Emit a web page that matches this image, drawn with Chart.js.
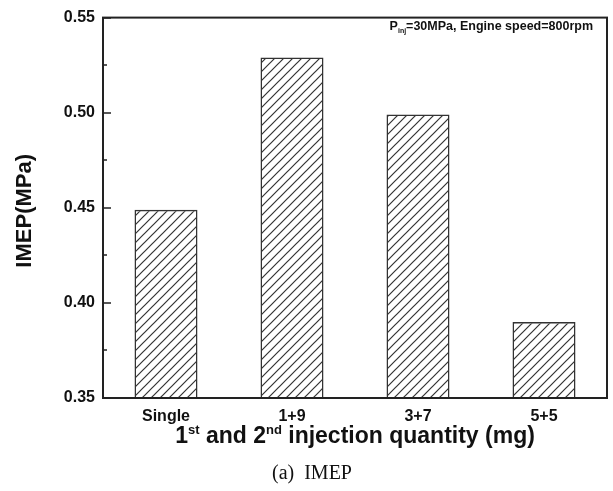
<!DOCTYPE html>
<html>
<head>
<meta charset="utf-8">
<script src="https://cdn.jsdelivr.net/npm/chart.js@4"></script>
<style>
  body { margin: 0; background: #fff; }
  canvas { display: block; }
</style>
</head>
<body>
<canvas id="imepChart" width="613" height="491"></canvas>
<script>
const categories = ["Single", "1+9", "3+7", "5+5"];
const imepValues = [0.449, 0.529, 0.499, 0.390];
const yTicks = [0.35, 0.40, 0.45, 0.50, 0.55];

const SANS = "'Liberation Sans', Arial, sans-serif";
const SERIF = "'Liberation Serif', 'Times New Roman', serif";

// diagonal hatch fill for the bars
function makeHatch() {
    const s = 9;
    const c = document.createElement("canvas");
    c.width = s; c.height = s;
    const g = c.getContext("2d");
    g.strokeStyle = "#333";
    g.lineWidth = 1.2;
    g.beginPath();
    g.moveTo(-1, s + 1); g.lineTo(s + 1, -1);
    g.moveTo(-2, 2); g.lineTo(2, -2);
    g.moveTo(s - 2, s + 2); g.lineTo(s + 2, s - 2);
    g.stroke();
    return g.createPattern(c, "repeat");
}

function drawRuns(ctx, runs, cx, baseline) {
    let total = 0;
    runs.forEach(r => { ctx.font = r.font; r.w = ctx.measureText(r.text).width; total += r.w; });
    let x = cx - total / 2;
    ctx.textAlign = "left";
    ctx.textBaseline = "alphabetic";
    runs.forEach(r => {
        ctx.font = r.font;
        ctx.fillText(r.text, x, baseline + (r.dy || 0));
        x += r.w;
    });
}

const decorations = {
    id: "decorations",
    afterDraw(chart) {
        const { ctx, chartArea: a, scales: { y } } = chart;
        ctx.save();
        ctx.strokeStyle = "#222";
        ctx.lineWidth = 2;
        ctx.strokeRect(a.left, a.top, a.right - a.left, a.bottom - a.top);

        // inward ticks, majors plus half-step minors
        ctx.lineWidth = 1.6;
        ctx.beginPath();
        yTicks.forEach((v, i) => {
            const py = Math.round(y.getPixelForValue(v));
            ctx.moveTo(a.left, py); ctx.lineTo(a.left + 8, py);
            if (i < yTicks.length - 1) {
                const my = Math.round(y.getPixelForValue((v + yTicks[i + 1]) / 2));
                ctx.moveTo(a.left, my); ctx.lineTo(a.left + 4, my);
            }
        });
        ctx.stroke();

        ctx.fillStyle = "#111";
        // y title
        ctx.save();
        ctx.translate(25, (a.top + a.bottom) / 2 + 3);
        ctx.rotate(-Math.PI / 2);
        ctx.font = "bold 22px " + SANS;
        ctx.textAlign = "center";
        ctx.textBaseline = "middle";
        ctx.fillText("IMEP(MPa)", 0, 0);
        ctx.restore();

        // x title with superscripts
        const big = "bold 23px " + SANS, sup = "bold 13px " + SANS;
        drawRuns(ctx, [
            { text: "1", font: big },
            { text: "st", font: sup, dy: -9 },
            { text: " and 2", font: big },
            { text: "nd", font: sup, dy: -9 },
            { text: " injection quantity (mg)", font: big }
        ], (a.left + a.right) / 2, 443);

        // caption
        ctx.font = "20px " + SERIF;
        ctx.textAlign = "center";
        ctx.fillText("(a)  IMEP", 312, 479);

        // annotation, right aligned
        const main = "bold 12.5px " + SANS, sub = "bold 7px " + SANS;
        const runs = [
            { text: "P", font: main },
            { text: "inj", font: sub, dy: 3 },
            { text: "=30MPa, Engine speed=800rpm", font: main }
        ];
        let w = 0;
        runs.forEach(r => { ctx.font = r.font; w += ctx.measureText(r.text).width; });
        drawRuns(ctx, runs, a.right - 14 - w / 2, 30);
        ctx.restore();
    }
};

new Chart(document.getElementById("imepChart").getContext("2d"), {
    type: "bar",
    data: {
        labels: categories,
        datasets: [{
            data: imepValues,
            backgroundColor: makeHatch(),
            borderColor: "#333",
            borderWidth: 1.5,
            categoryPercentage: 1,
            barPercentage: 0.5
        }]
    },
    options: {
        responsive: false,
        animation: false,
        layout: { padding: { top: 15, right: 6, left: 0, bottom: 0 } },
        plugins: { legend: { display: false }, tooltip: { enabled: false } },
        scales: {
            x: {
                grid: { display: false, drawTicks: false },
                border: { display: true, color: "#222", width: 2 },
                ticks: { color: "#111", font: { family: SANS, size: 16, weight: "bold" }, padding: 9 },
                afterFit: s => { s.height = 93; }
            },
            y: {
                min: yTicks[0],
                max: yTicks[yTicks.length - 1],
                grid: { display: false, drawTicks: false },
                border: { display: true, color: "#222", width: 2 },
                afterBuildTicks: s => { s.ticks = yTicks.map(v => ({ value: v })); },
                ticks: {
                    color: "#111",
                    font: { family: SANS, size: 16, weight: "bold" },
                    padding: 8,
                    callback: v => v.toFixed(2)
                },
                afterFit: s => { s.width = 103; }
            }
        }
    },
    plugins: [decorations]
});
</script>
</body>
</html>
